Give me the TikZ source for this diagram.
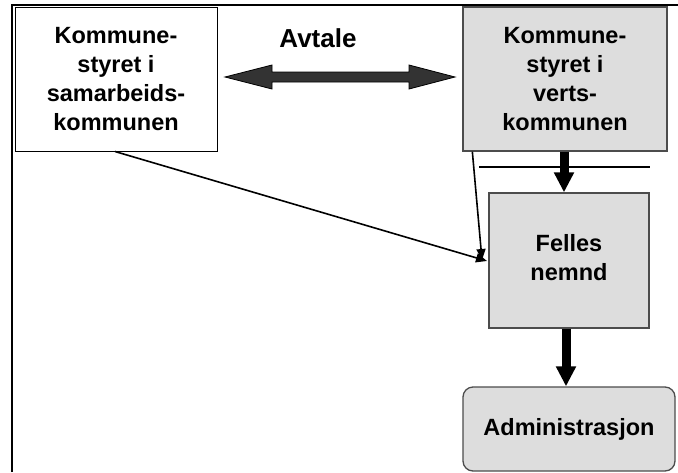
\documentclass[tikz,border=0pt]{standalone}
\usepackage{fontspec}
\setmainfont{Liberation Sans}
\usetikzlibrary{arrows.meta,positioning,calc}
\definecolor{boxgray}{HTML}{DDDDDD}
\definecolor{arrowgray}{HTML}{333333}
\begin{document}
\begin{tikzpicture}[x=1pt,y=-1pt,
  box/.style={draw=black!70,line width=1.3pt,inner sep=0pt,align=center,
    font=\fontsize{23.5}{29}\selectfont\bfseries},
  thick arr/.style={line width=9pt,-{Triangle[width=19pt,length=20pt]}},
  thin arr/.style={line width=1.6pt,-{Triangle[width=9pt,length=11pt]}}]
\useasboundingbox (0,0) rectangle (678,472);
% frame
\draw[line width=2.2pt] (12,472) -- (12,5) -- (678,5);
% boxes
\node[box,draw=black,line width=1pt,fill=white,minimum width=202pt,minimum height=144pt] (left) at (116,79)
  {Kommune-\\styret i\\samarbeids-\\kommunen};
\node[box,fill=boxgray,minimum width=204pt,minimum height=144pt] (top) at (565,79)
  {Kommune-\\styret i\\verts-\\kommunen};
\node[box,fill=boxgray,minimum width=160pt,minimum height=135pt] (felles) at (569,260.5)
  {\raisebox{6pt}{\begin{tabular}{@{}c@{}}Felles\\nemnd\end{tabular}}};
\node[box,fill=boxgray,rounded corners=10pt,minimum width=212pt,minimum height=84pt] (admin) at (569,429)
  {Administrasjon};
\node[font=\fontsize{26}{30}\selectfont\bfseries] (avtale) at (318,38) {Avtale};
% double arrow
\draw[fill=arrowgray,draw=black,line width=0.8pt]
  (225,77) -- (272,65) -- (272,72) -- (409,72) -- (409,65) -- (455,77)
  -- (409,89) -- (409,82) -- (272,82) -- (272,89) -- cycle;
% horizontal line
\coordinate (hl1) at (479,167);
\coordinate (hl2) at (650,167);
\draw[line width=1.5pt] (hl1) -- (hl2);
% thick arrows
\draw[thick arr] ($(top.south)+(-1,0)$) -- ($(top.south |- felles.north)+(-1,0)$);
\draw[thick arr] ($(felles.south)+(-3,0)$) -- ($(felles.south |- admin.north)+(-3,0)$);
% thin arrows
\coordinate (tipA) at (487,261);
\coordinate (tipB) at (482,260);
\draw[thin arr] ($(left.south)+(-1,0)$) -- (tipA);
\draw[thin arr] ($(top.south west)+(10,0)$) -- (tipB);
\end{tikzpicture}
\end{document}
